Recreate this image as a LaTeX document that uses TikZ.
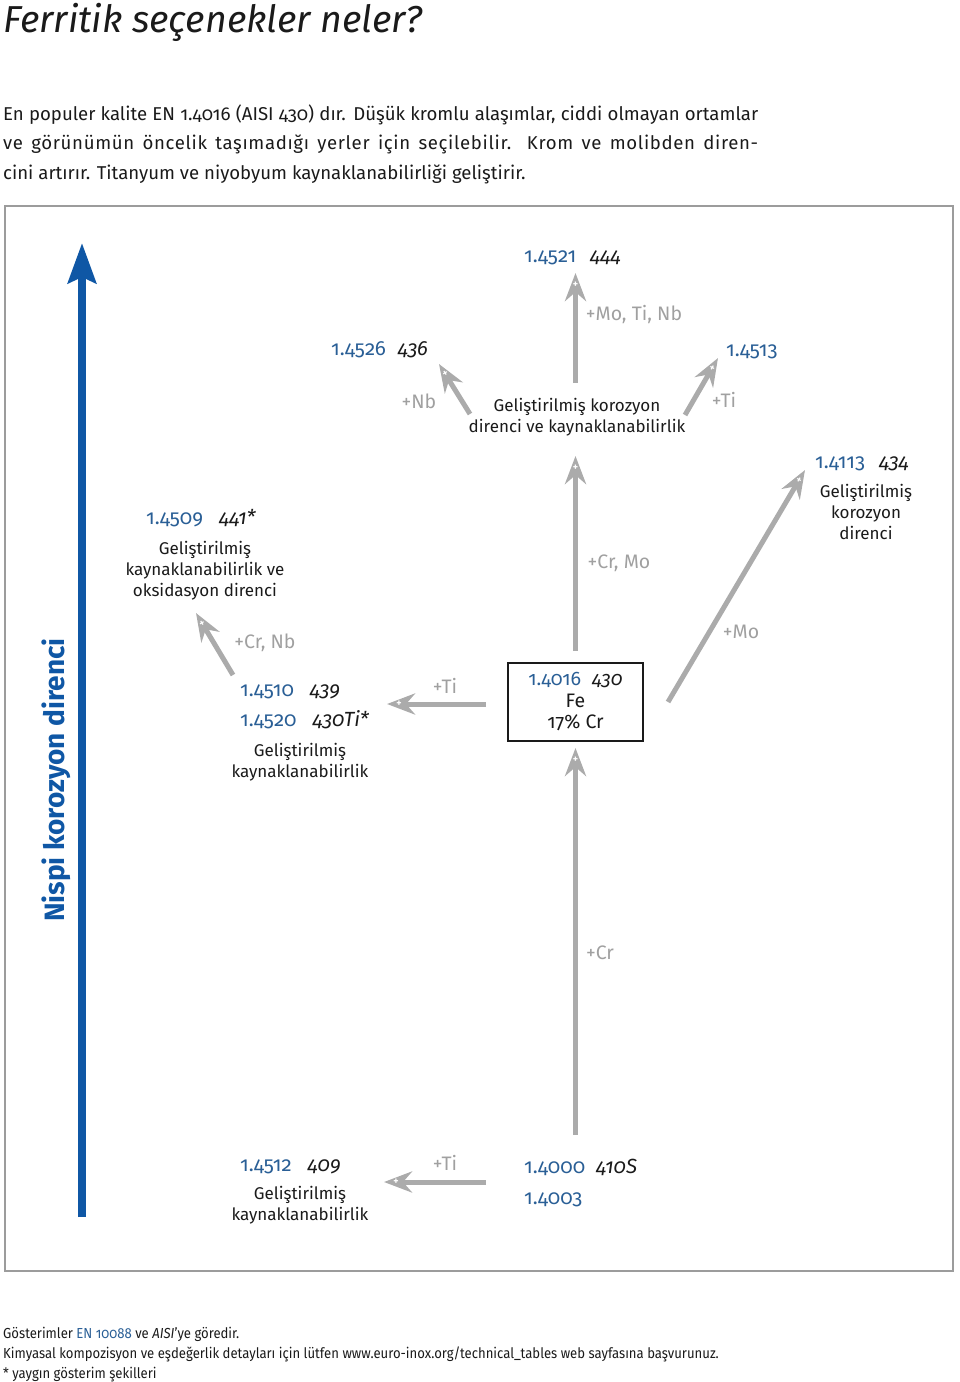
\documentclass[tikz,border=0pt]{standalone}
\usepackage{fontspec}
\setmainfont{Fira Sans}[Numbers=OldStyle]
\newfontfamily\condfont{Fira Sans}[Numbers=OldStyle,FakeStretch=0.905]
\newfontfamily\spacedfont{Fira Sans}[Numbers=OldStyle,LetterSpace=3.5]
\usetikzlibrary{arrows.meta,calc}
\definecolor{codeblue}{HTML}{2A5F96}
\definecolor{axisblue}{HTML}{0F57A5}
\definecolor{arrgray}{HTML}{ABABAB}
\definecolor{labgray}{HTML}{A0A0A0}
\definecolor{framegray}{HTML}{9C9C9C}
\definecolor{ink}{HTML}{1A1A1A}
\newcommand{\gradepair}[3][14pt]{\textcolor{codeblue}{#2}\hspace{#1}\textit{#3}}
\begin{document}
\begin{tikzpicture}[x=1pt,y=-1pt,
  every node/.style={inner sep=0pt, text=ink},
  dtext/.style={font=\fontsize{17}{21}\selectfont, align=center},
  code/.style={font=\fontsize{20.5}{21}\selectfont, anchor=base west},
  elem/.style={font=\fontsize{19.5}{21}\selectfont, text=labgray},
  garrow/.style={draw=arrgray, line width=5pt, -{Stealth[length=28pt,width=21pt,inset=9pt]}},
  plusmark/.style={font=\fontsize{10}{10}\selectfont\bfseries, text=white},
  bodyline/.style={font=\fontsize{18.6}{29.5}\selectfont, anchor=base west},
  foot/.style={font=\condfont\fontsize{14.5}{20}\selectfont, anchor=base west},
]
\useasboundingbox (0,0) rectangle (960,1382);

% title and intro
\node[anchor=base west, font=\fontsize{37.5}{40}\selectfont\itshape] (title) at (3,32) {Ferritik seçenekler neler?};
\node[bodyline] (body1) at (3,120) {\makebox[755pt][s]{En populer kalite EN 1.4016 (AISI 430) dır. Düşük kromlu alaşımlar, ciddi olmayan ortamlar}};
\node[bodyline] (body2) at (3,149.5) {\spacedfont\makebox[755pt][s]{ve görünümün öncelik taşımadığı yerler için seçilebilir. Krom ve molibden diren-}};
\node[bodyline] (body3) at (3,179) {cini artırır. Titanyum ve niyobyum kaynaklanabilirliği geliştirir.};

% frame
\draw[framegray, line width=2.5pt] (5,206) rectangle (953,1271);

% axis
\coordinate (ax0) at (82,1217);
\coordinate (ax1) at (82,243);
\draw[axisblue, line width=8pt, -{Stealth[length=40pt,width=28pt,inset=6pt]}] (ax0) -- (ax1);
\node[rotate=90, font=\fontsize{28}{28}\selectfont\bfseries, text=axisblue] (axlab) at (56,780) {Nispi korozyon direnci};

% central box
\node[draw=ink, line width=2pt, minimum width=135, minimum height=78, align=center,
      font=\fontsize{19.5}{21.5}\selectfont] (box) at (575.5,702)
      {\gradepair[11pt]{1.4016}{430}\\Fe\\17\% Cr};

% grade labels
\node[code] (c4521) at (524,262) {\gradepair{1.4521}{444}};
\node[code] (c4526) at (331,355) {\gradepair[12pt]{1.4526}{436}};
\node[code] (c4513) at (726,356) {\textcolor{codeblue}{1.4513}};
\node[code] (c4113) at (815,468) {\gradepair{1.4113}{434}};
\node[code] (c4509) at (146,524) {\gradepair[16pt]{1.4509}{441*}};
\node[code] (c4510) at (240,696) {\gradepair[16pt]{1.4510}{439}};
\node[code] (c4520) at (240,726) {\gradepair[16pt]{1.4520}{430Ti*}};
\node[code] (c4512) at (240,1171) {\gradepair[16pt]{1.4512}{409}};
\node[code] (c4000) at (524,1173) {\gradepair[11pt]{1.4000}{410S}};
\node[code] (c4003) at (524,1204) {\textcolor{codeblue}{1.4003}};

% descriptions
\node[dtext] (d1) at (577,417) {Geliştirilmiş korozyon\\direnci ve kaynaklanabilirlik};
\node[dtext] (d2) at (866,512) {Geliştirilmiş\\korozyon\\direnci};
\node[dtext] (d3) at (205,571) {Geliştirilmiş\\kaynaklanabilirlik ve\\oksidasyon direnci};
\node[dtext] (d4) at (300,762) {Geliştirilmiş\\kaynaklanabilirlik};
\node[dtext] (d5) at (300,1205) {Geliştirilmiş\\kaynaklanabilirlik};

% arrow end points
\coordinate (s1) at (575.5,1135);
\coordinate (t2) at (575.5,456);
\coordinate (s3) at (575.5,383); \coordinate (t3) at (575.5,273);
\coordinate (s4) at (470,414);   \coordinate (t4) at (439,364);
\coordinate (s5) at (685,415);   \coordinate (t5) at (718,358);
\coordinate (s6) at (668,702);   \coordinate (t6) at (805,470);
\coordinate (s7) at (233,675);   \coordinate (t7) at (196,613);
\coordinate (s8) at (486,704);   \coordinate (t8) at (387,704);
\coordinate (s9) at (486,1182);  \coordinate (t9) at (384,1182);

% arrows
\draw[garrow, shorten >=6pt] (s1) -- (box.south);
\draw[garrow, shorten <=11pt] (box.north) -- (t2);
\draw[garrow] (s3) -- (t3);
\draw[garrow] (s4) -- (t4);
\draw[garrow] (s5) -- (t5);
\draw[garrow] (s6) -- (t6);
\draw[garrow] (s7) -- (t7);
\draw[garrow] (s8) -- (t8);
\draw[garrow] (s9) -- (t9);

% plus marks in arrow heads
\node[plusmark] (p1) at (575.5,760) {+};
\node[plusmark] (p2) at ($(t2)+(0,12)$) {+};
\node[plusmark] (p3) at ($(t3)+(0,12)$) {+};
\node[plusmark, rotate=31.8] (p4) at ($(t4)!12pt!(s4)$) {+};
\node[plusmark, rotate=-30] (p5) at ($(t5)!12pt!(s5)$) {+};
\node[plusmark, rotate=-30.6] (p6) at ($(t6)!12pt!(s6)$) {+};
\node[plusmark, rotate=30.8] (p7) at ($(t7)!12pt!(s7)$) {+};
\node[plusmark] (p8) at ($(t8)!12pt!(s8)$) {+};
\node[plusmark] (p9) at ($(t9)!12pt!(s9)$) {+};

% element labels
\node[elem] (e1) at (600,953) {+Cr};
\node[elem] (e2) at (619,563) {+Cr, Mo};
\node[elem] (e3) at (634,315) {+Mo, Ti, Nb};
\node[elem] (e4) at (419,401) {+Nb};
\node[elem] (e5) at (724,400) {+Ti};
\node[elem] (e6) at (741,632) {+Mo};
\node[elem] (e7) at (265,643) {+Cr, Nb};
\node[elem] (e8) at (445,686) {+Ti};
\node[elem] (e9) at (445,1163) {+Ti};

% footer
\node[foot] (f1) at (3,1338) {Gösterimler \textcolor{codeblue}{EN 10088} ve \textit{AISI}’ye göredir.};
\node[foot] (f2) at (3,1358) {Kimyasal kompozisyon ve eşdeğerlik detayları için lütfen www.euro-inox.org/technical\_tables web sayfasına başvurunuz.};
\node[foot] (f3) at (3,1378) {* yaygın gösterim şekilleri};
\end{tikzpicture}
\end{document}
